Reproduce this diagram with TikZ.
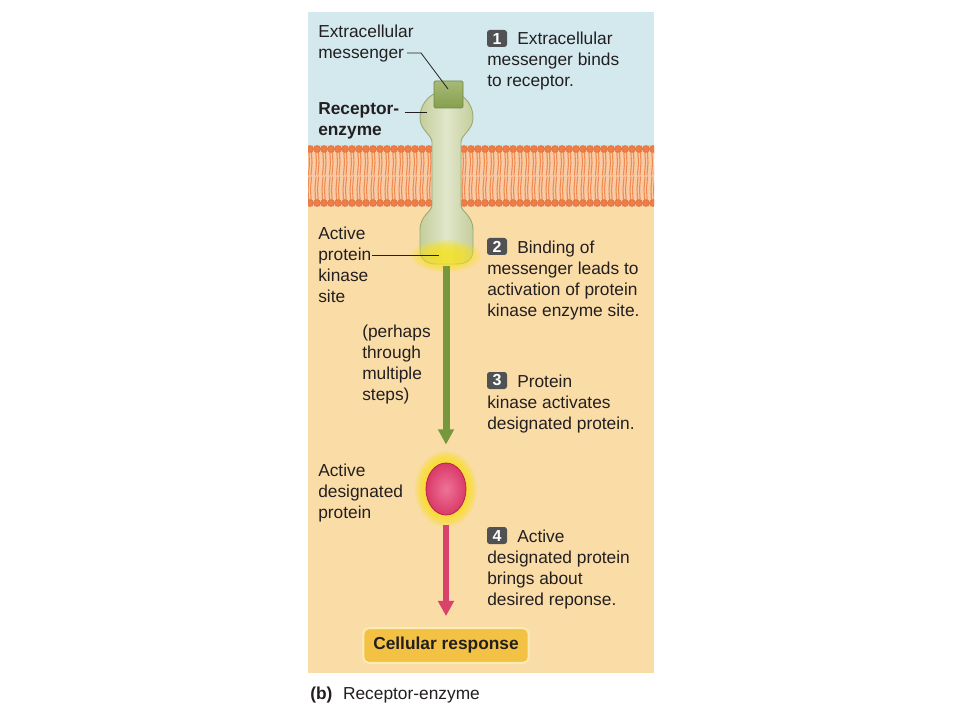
\documentclass[tikz,border=0pt]{standalone}
\usepackage{fontspec}
\setmainfont{Liberation Sans}
\usetikzlibrary{arrows.meta,shapes.geometric}
\definecolor{ink}{HTML}{231F20}
\definecolor{skyblue}{HTML}{D3E9EE}
\definecolor{peach}{HTML}{FADCA7}
\definecolor{lipidbg}{HTML}{F9CBA4}
\definecolor{lipid}{HTML}{EF7D45}
\definecolor{lipidtail}{HTML}{EF8A50}
\definecolor{recfill}{HTML}{E1E6CA}
\definecolor{recside}{HTML}{C4CE9C}
\definecolor{recedge}{HTML}{9DAA76}
\definecolor{msgtop}{HTML}{A7B977}
\definecolor{msgbot}{HTML}{86A04E}
\definecolor{kinasegreen}{HTML}{77973D}
\definecolor{glow}{HTML}{F8E21A}
\definecolor{protred}{HTML}{D93A68}
\definecolor{protlight}{HTML}{EE7398}
\definecolor{protedge}{HTML}{B8234F}
\definecolor{resparrow}{HTML}{D9436B}
\definecolor{respgold}{HTML}{F3C144}
\definecolor{respedge}{HTML}{FDEBB5}
\definecolor{numgray}{HTML}{4F5153}
\begin{document}
\begin{tikzpicture}[x=0.75pt, y=-0.75pt, line join=round, line cap=round, >={Triangle[length=11.5pt,width=11.5pt]},
  lbl/.style={anchor=base west, align=left, inner sep=0pt, text=ink, font=\fontsize{13}{15.75}\selectfont},
  boldlbl/.style={lbl, font=\fontsize{13}{15.75}\selectfont\bfseries},
  numbox/.style={fill=numgray, rounded corners=2pt, text=white, inner sep=0pt, minimum width=15pt, minimum height=12.75pt, font=\fontsize{12}{12}\selectfont\bfseries},
  leader/.style={draw=ink, line width=0.6pt, line cap=butt}]
\useasboundingbox (0,0) rectangle (960,720);
\fill[white] (0,0) rectangle (960,720);
\def\xl{308}\def\xr{654}\def\mtop{149}\def\mbot{203}
\fill[skyblue] (\xl,12) rectangle (\xr,145);
\fill[peach] (\xl,207) rectangle (\xr,673);
\fill[lipidbg] (\xl,145) rectangle (\xr,207);
\begin{scope}
  \clip (\xl,144) rectangle (\xr,208);
  \foreach \x in {310,317,...,656} {
    \draw[lipidtail, line width=0.8pt] (\x-1.3,\mtop) -- (\x-0.5,163) -- (\x-1.5,175) (\x+1.3,\mtop) -- (\x+2,163) -- (\x+1,175);
    \draw[lipidtail, line width=0.8pt] (\x-1.3,\mbot) -- (\x-2,189) -- (\x-1,177) (\x+1.3,\mbot) -- (\x+0.5,189) -- (\x+1.5,177);
  }
  \foreach \x in {310,317,...,656}
    \filldraw[fill=lipid, draw=lipid!85!black, line width=0.3pt] (\x,\mtop) circle (2.6pt) (\x,\mbot) circle (2.6pt);
\end{scope}
\draw[left color=recside, right color=recside, middle color=recfill, draw=recedge, line width=0.7pt]
  (432,142) .. controls (432,135) and (420,130) .. (420,118) .. controls (420,101) and (433,91) .. (446,91)
  .. controls (460,91) and (473,101) .. (473,118) .. controls (473,130) and (461,135) .. (461,142) -- (461,205)
  .. controls (461,212) and (473,215) .. (473,230) -- (473,250) .. controls (473,260) and (466,264) .. (456,264)
  -- (437,264) .. controls (427,264) and (420,260) .. (420,250) -- (420,230) .. controls (420,215) and (432,212) .. (432,205) -- cycle;
\foreach \k in {0,...,7}
  \fill[glow, opacity=0.18] (446,256) ellipse [x radius={(35-3*\k)*0.75pt}, y radius={(16-1.4*\k)*0.75pt}];
\draw[top color=msgtop, bottom color=msgbot, draw=msgbot!85!black, line width=0.5pt, rounded corners=1pt] (434,81) rectangle (463,108);
\foreach \k in {0,...,8}
  \fill[glow, opacity=0.15] (446,489) ellipse [x radius={(31-1.2*\k)*0.75pt}, y radius={(38-1.3*\k)*0.75pt}];
\node[ellipse, minimum width=30pt, minimum height=39pt, inner sep=0pt, inner color=protlight, outer color=protred, draw=protedge, line width=0.6pt] (prot) at (446,489) {};
\node[fill=respgold, draw=respedge, line width=1.5pt, rounded corners=4pt, minimum width=124pt, minimum height=26pt, inner sep=0pt, text=ink, font=\fontsize{13}{15.75}\selectfont\bfseries] (resp) at (446,645.5) {Cellular response};
\coordinate (site) at (446,266);
\draw[->, kinasegreen, line width=5.25pt, line cap=butt, shorten >=13.5pt] (site) -- (prot.north);
\draw[->, resparrow, line width=5pt, line cap=butt, shorten <=7.5pt, shorten >=8.25pt] (prot.south) -- (resp.north);
\node[lbl] (xmsg) at (318,59) {Extracellular\\messenger};
\node[boldlbl] (recp) at (318,136) {Receptor-\\enzyme};
\node[lbl] (kin) at (318,302) {Active\\protein\\kinase\\site};
\node[lbl] (multi) at (362,400) {(perhaps\\through\\multiple\\steps)};
\node[lbl] (dsg) at (318,518) {Active\\designated\\protein};
\coordinate (msgend) at (407,53); \coordinate (msgbend) at (421,53); \coordinate (msgtip) at (448,89);
\coordinate (recend) at (405,112); \coordinate (rectip) at (427,112);
\coordinate (kinend) at (372,255); \coordinate (kintip) at (439,255);
\draw[leader] (msgend) -- (msgbend) -- (msgtip);
\draw[leader] (recend) -- (rectip);
\draw[leader] (kinend) -- (kintip);
\node[numbox] (n1) at (497,38.5) {1};
\node[lbl] (s1) at (487,87) {\hspace*{22.5pt}Extracellular\\messenger binds\\to receptor.};
\node[numbox] (n2) at (497,246.5) {2};
\node[lbl] (s2) at (487,316) {\hspace*{22.5pt}Binding of\\messenger leads to\\activation of protein\\kinase enzyme site.};
\node[numbox] (n3) at (497,380.5) {3};
\node[lbl] (s3) at (487,429) {\hspace*{22.5pt}Protein\\kinase activates\\designated protein.};
\node[numbox] (n4) at (497,535.5) {4};
\node[lbl] (s4) at (487,605) {\hspace*{22.5pt}Active\\designated protein\\brings about\\desired reponse.};
\node[lbl] (cap) at (310,699) {\textbf{(b)}\hspace{8pt}Receptor-enzyme};
\end{tikzpicture}
\end{document}
